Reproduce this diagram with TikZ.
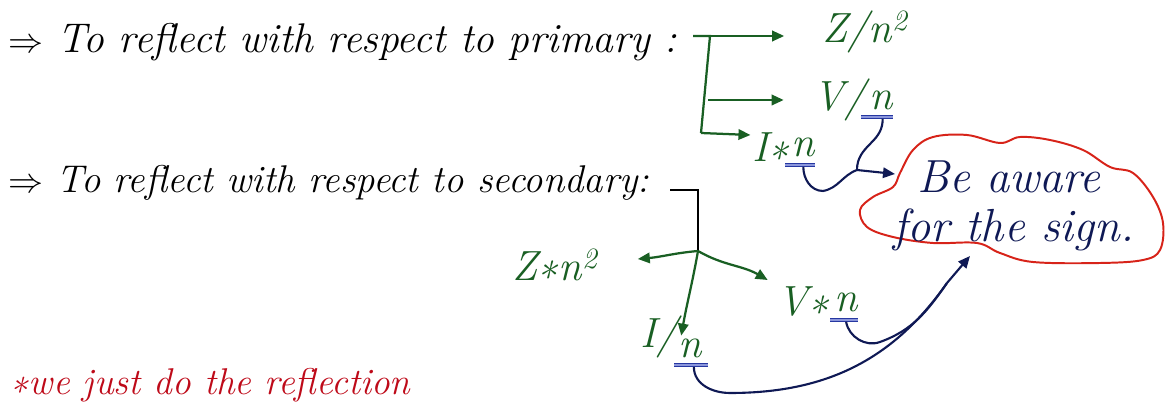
\documentclass[tikz,border=0pt]{standalone}
\usepackage{tikz}
\usetikzlibrary{positioning,arrows.meta,calc}
\definecolor{hGreen}{RGB}{25,95,35}
\definecolor{hBlue}{RGB}{45,65,190}
\definecolor{hNavy}{RGB}{15,25,85}
\definecolor{hRed}{RGB}{215,35,25}
\definecolor{hRedTxt}{RGB}{190,10,25}
\tikzset{
  note/.style={font=\fontsize{28}{30}\selectfont\itshape, inner sep=0pt, anchor=west},
  qty/.style={font=\fontsize{30}{32}\selectfont\itshape, text=hGreen, inner sep=0pt},
  cloudtxt/.style={font=\fontsize{33}{36}\selectfont\itshape, text=hNavy, inner sep=0pt, anchor=west},
  branch/.style={draw=hGreen, line width=1.6pt, -{Triangle[length=3mm,width=2.6mm]}},
  stem/.style={draw=black, line width=1.6pt},
  link/.style={draw=hNavy, line width=1.5pt},
  linkarr/.style={link, -{Triangle[length=3mm,width=2.6mm]}},
  uline/.style={draw=hBlue!85!black, line width=1pt, double=hBlue!55, double distance=1.2pt},
  cloudline/.style={draw=hRed, line width=1.4pt},
}
\begin{document}
\begin{tikzpicture}[x=0.025cm, y=-0.025cm]
  \useasboundingbox (0,0) rectangle (1167,405);
  % statements
  \node[note, font=\fontsize{29.5}{30}\selectfont\itshape] (pri) at (8,42)
    {$\Rightarrow$ To reflect with respect to primary :};
  \node[note, font=\fontsize{27.5}{30}\selectfont\itshape] (sec) at (8,183)
    {$\Rightarrow$ To reflect with respect to secondary:};
  \node[note, text=hRedTxt, font=\fontsize{26.5}{30}\selectfont\itshape] (just) at (10,385)
    {\textasteriskcentered we just do the reflection};

  % primary quantities
  \node[qty] (zp) at (865,32) {Z/n\textsuperscript{2}};
  \node[qty, anchor=east] (vp) at (866,100) {V/};
  \node[qty, right=2pt of vp] (vpn) {n};
  \node[qty, anchor=east] (ip) at (790,147) {I\textasteriskcentered};
  \node[qty, right=1pt of ip] (ipn) {n};

  % secondary quantities
  \node[qty] (zs) at (555,265) {Z\textasteriskcentered n\textsuperscript{2}};
  \node[qty, anchor=east] (vs) at (830,302) {V\textasteriskcentered};
  \node[qty, right=3pt of vs] (vsn) {n};
  \node[qty, anchor=east] (is) at (678,337) {I/};
  \node[qty, right=0pt of is, yshift=-8pt] (isn) {n};

  % cloud
  \draw[cloudline] plot[smooth cycle, tension=0.6] coordinates {
    (900,173) (913,150) (933,137) (967,135) (1000,143) (1020,137)
    (1050,140) (1083,150) (1110,167) (1133,173) (1153,197) (1163,223)
    (1160,250) (1143,260) (1100,263) (1033,262) (1000,253) (977,243)
    (933,243) (893,237) (867,227) (860,210) (873,197) (893,187)};
  \node[cloudtxt] (bea) at (917,177) {Be aware};
  \node[cloudtxt] (sign) at (893,230) {for the sign.};

  % underlines
  \draw[uline] ($(vpn.south west)+(-8,7)$) -- ($(vpn.south east)+(0,7)$);
  \draw[uline] ($(ipn.south west)+(-6,8)$) -- ($(ipn.south east)+(0,8)$);
  \draw[uline] ($(vsn.south west)+(-4,8)$) -- ($(vsn.south east)+(0,8)$);
  \draw[uline] ($(isn.south west)+(-4,7)$) -- ($(isn.south east)+(6,7)$);

  % primary branches
  \coordinate (pa) at (693,36);
  \coordinate (pb) at (710,36);
  \coordinate (pc) at (701,133);
  \coordinate (pm) at (708,100);
  \draw[draw=hGreen, line width=1.6pt] (pa) -- (pb) -- (pc);
  \draw[branch] (pb) -- ($(zp.west)+(-38,4)$);
  \draw[branch] (pm) -- ($(vp.west)+(-30,0)$);
  \draw[branch] (pc) -- ($(ip.west)+(-2,-12)$);

  % secondary branches
  \coordinate (sa) at (670,190);
  \coordinate (sj) at (698,251);
  \draw[stem] (sa) -- (698,190) -- (sj);
  \draw[branch] (sj) to[out=185,in=5] ($(zs.east)+(40,-6)$);
  \draw[branch] (sj) to[out=-100,in=80] ($(is.north)+(22,20)$);
  \draw[branch] (sj) to[out=-30,in=150] ($(vs.west)+(-10,-22)$);

  % links to the cloud
  \coordinate (jp) at (857,170);
  \coordinate (cp) at (895,174);
  \coordinate (js) at (947,283);
  \coordinate (cs) at (970,256);
  \draw[link] ($(vpn.south)+(2,9)$) to[out=-90,in=45] (871,143)
    to[out=225,in=90] (jp);
  \draw[link] ($(ipn.south)+(0,10)$) to[out=-90,in=180] (823,191)
    to[out=10,in=200] (jp);
  \draw[linkarr] (jp) -- (cp);
  \draw[link] ($(vsn.south)+(0,10)$) to[out=-80,in=200] (880,342)
    to[out=20,in=235] (js);
  \draw[link] ($(isn.south)+(4,9)$) to[out=-90,in=180] (730,393)
    to[out=0,in=235] (js);
  \draw[linkarr] (js) -- (cs);
\end{tikzpicture}
\end{document}
